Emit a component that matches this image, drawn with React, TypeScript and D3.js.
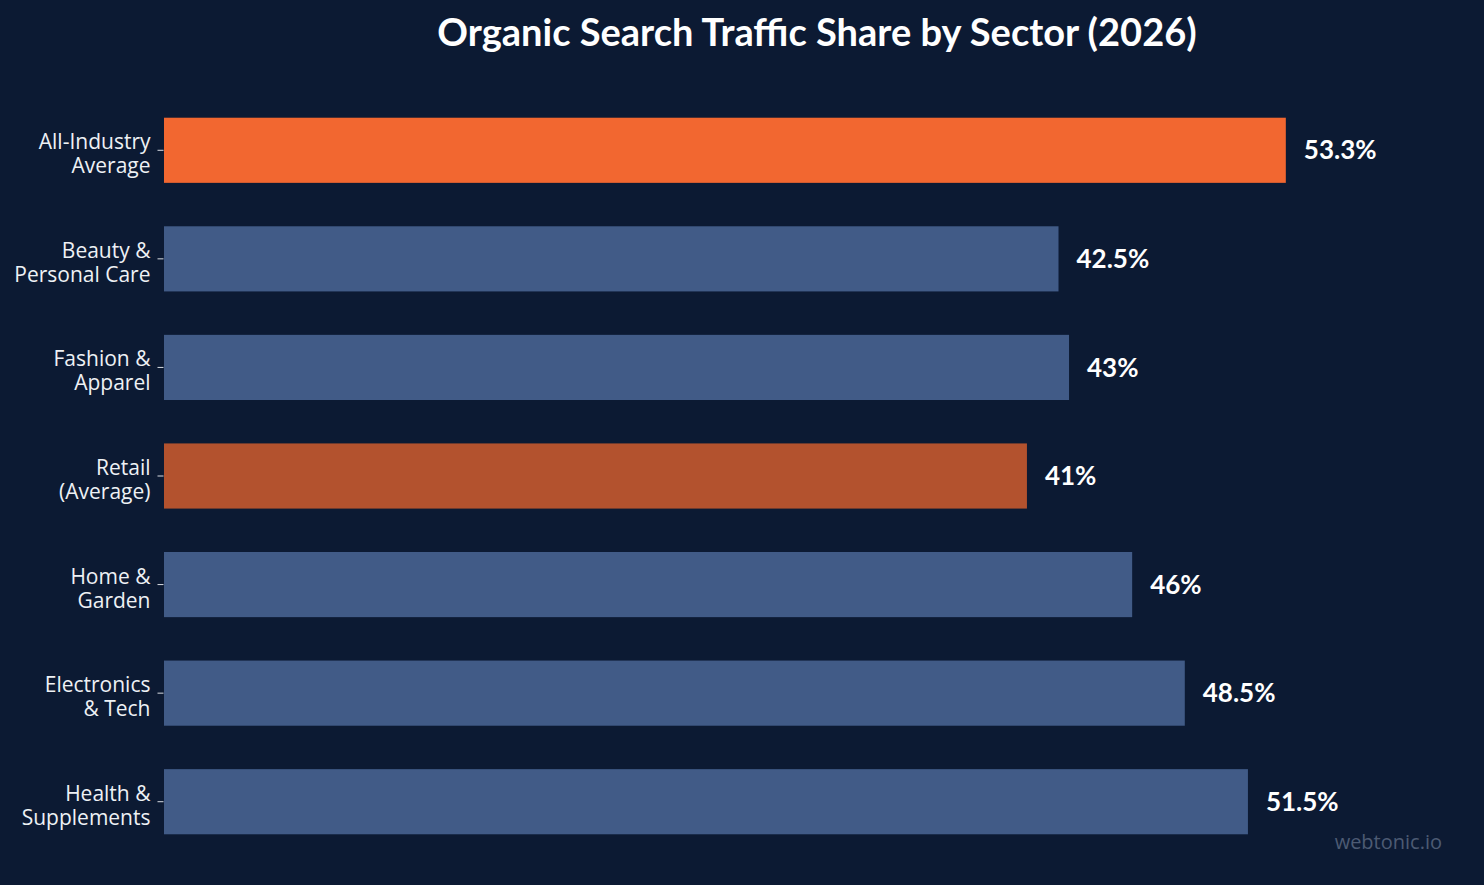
import { useEffect, useRef } from "react";
import * as d3 from "d3";

const W = 1484;
const H = 885;

const sectors = [
  "All-Industry Average",
  "Beauty & Personal Care",
  "Fashion & Apparel",
  "Retail (Average)",
  "Home & Garden",
  "Electronics & Tech",
  "Health & Supplements",
];
const tickLines = [
  ["All-Industry", "Average"],
  ["Beauty &", "Personal Care"],
  ["Fashion &", "Apparel"],
  ["Retail", "(Average)"],
  ["Home &", "Garden"],
  ["Electronics", "& Tech"],
  ["Health &", "Supplements"],
];
const shares = [53.3, 42.5, 43, 41, 46, 48.5, 51.5];
const valueLabels = ["53.3%", "42.5%", "43%", "41%", "46%", "48.5%", "51.5%"];
const barColors = ["#f26730", "#415b87", "#415b87", "#b3522e", "#415b87", "#415b87", "#415b87"];

const App = () => {
  const svgRef = useRef<SVGSVGElement>(null);

  useEffect(() => {
    const svg = d3.select(svgRef.current);
    svg.selectAll("*").remove();

    const margin = { top: 96, right: 86, bottom: 29, left: 164 };

    svg
      .append("rect")
      .attr("width", W)
      .attr("height", H)
      .attr("fill", "#0c1a33");

    const x = d3
      .scaleLinear()
      .domain([0, d3.max(shares)! * 1.1])
      .range([margin.left, W - margin.right]);

    const y = d3
      .scaleBand()
      .domain(sectors)
      .range([margin.top, H - margin.bottom])
      .paddingInner(0.4)
      .paddingOuter(0.2);

    svg
      .append("text")
      .attr("x", 817)
      .attr("y", 46)
      .attr("text-anchor", "middle")
      .attr("fill", "#ffffff")
      .style("font-family", "Lato, sans-serif")
      .style("font-weight", 700)
      .style("font-size", "38px")
      .text("Organic Search Traffic Share by Sector (2026)");

    svg
      .append("g")
      .selectAll("rect")
      .data(sectors)
      .join("rect")
      .attr("x", x(0))
      .attr("y", (d) => y(d)!)
      .attr("width", (_, i) => x(shares[i]) - x(0))
      .attr("height", y.bandwidth())
      .attr("fill", (_, i) => barColors[i]);

    svg
      .append("g")
      .selectAll("text")
      .data(sectors)
      .join("text")
      .attr("x", (_, i) => x(shares[i]) + 18)
      .attr("y", (d) => y(d)! + y.bandwidth() / 2)
      .attr("dy", "0.35em")
      .attr("fill", "#ffffff")
      .style("font-family", "Lato, sans-serif")
      .style("font-weight", 700)
      .style("font-size", "26px")
      .text((_, i) => valueLabels[i]);

    const axis = svg
      .append("g")
      .attr("transform", `translate(${margin.left - 0.5},0)`)
      .call(d3.axisLeft(y).tickSize(6).tickPadding(7).tickFormat(() => ""));
    axis.select(".domain").remove();
    axis.selectAll(".tick line").attr("stroke", "#d9dde4");

    axis
      .selectAll<SVGTextElement, string>(".tick text")
      .attr("fill", "#eef1f5")
      .attr("dy", null)
      .style("font-family", "'Open Sans', sans-serif")
      .style("font-size", "21px")
      .each(function (d) {
        const lines = tickLines[sectors.indexOf(d)];
        const t = d3.select(this);
        t.text(null);
        lines.forEach((line, j) => {
          t.append("tspan")
            .attr("x", -13)
            .attr("y", -1 + j * 24)
            .text(line);
        });
      });

    svg
      .append("text")
      .attr("x", 1442)
      .attr("y", 849)
      .attr("text-anchor", "end")
      .attr("fill", "#4d5b73")
      .style("font-family", "'Open Sans', sans-serif")
      .style("font-size", "20px")
      .text("webtonic.io");
  }, []);

  return (
    <svg
      ref={svgRef}
      width={W}
      height={H}
      style={{ display: "block", position: "absolute", top: 0, left: 0 }}
    />
  );
};

export default App;
